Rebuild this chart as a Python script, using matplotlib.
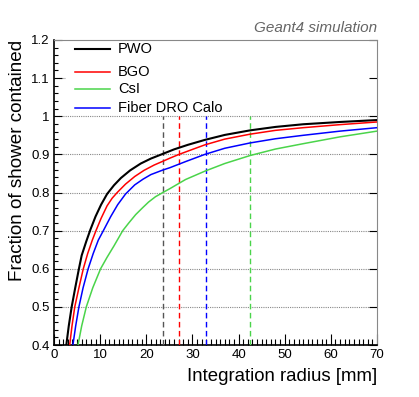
import matplotlib
matplotlib.use("Agg")
import matplotlib.pyplot as plt
from matplotlib.ticker import MultipleLocator
from matplotlib.patches import Rectangle

plt.rcParams['font.family'] = ['Liberation Sans', 'DejaVu Sans']

labels = ["PWO", "BGO", "CsI", "Fiber DRO Calo"]
colors = ["#000000", "#ff0000", "#4ad44a", "#0000ff"]
vline_colors = ["#555555", "#ff0000", "#4ad44a", "#0000ff"]

pwo_x = [2.0, 2.67, 3.2, 3.83, 4.6, 5.4, 6.0, 7.0, 7.9, 9.0, 10.2, 11.5, 13.0, 14.5, 16.5, 18.8,
         21.0, 23.3, 26.0, 29.0, 32.7, 37.0, 42.5, 48.0, 54.0, 62.0, 70.0]
pwo_y = [0.33, 0.40, 0.45, 0.50, 0.55, 0.60, 0.635, 0.672, 0.703, 0.737, 0.768, 0.796, 0.819, 0.838, 0.858, 0.876,
         0.889, 0.900, 0.913, 0.925, 0.938, 0.951, 0.963, 0.972, 0.979, 0.985, 0.990]

bgo_x = [2.6, 3.4, 3.9, 4.5, 5.4, 6.35, 7.3, 8.3, 9.1, 10.2, 11.5, 12.6, 13.7, 15.5, 17.5, 19.5,
         21.7, 23.6, 25.1, 27.1, 30.0, 32.7, 37.0, 42.5, 48.0, 54.0, 62.0, 70.0]
bgo_y = [0.33, 0.40, 0.45, 0.50, 0.55, 0.60, 0.64, 0.675, 0.70, 0.732, 0.765, 0.785, 0.80, 0.822, 0.842, 0.858,
         0.872, 0.882, 0.890, 0.900, 0.913, 0.925, 0.940, 0.953, 0.963, 0.970, 0.978, 0.985]

csi_x = [4.3, 5.2, 6.0, 7.0, 8.4, 10.1, 11.5, 13.0, 14.9, 16.2, 17.7, 19.2, 20.5, 22.0, 23.6, 25.1,
         28.5, 32.7, 37.0, 42.5, 48.0, 54.0, 62.0, 70.0]
csi_y = [0.32, 0.40, 0.45, 0.50, 0.55, 0.60, 0.63, 0.66, 0.70, 0.72, 0.742, 0.76, 0.775, 0.789, 0.80, 0.81,
         0.834, 0.856, 0.876, 0.897, 0.914, 0.928, 0.946, 0.961]

dro_x = [3.2, 4.1, 4.7, 5.4, 6.3, 7.4, 8.5, 9.6, 10.7, 12.3, 13.8, 15.5, 17.5, 19.3, 21.0, 23.6,
         25.1, 28.5, 32.7, 37.0, 42.5, 48.0, 54.0, 62.0, 70.0]
dro_y = [0.32, 0.40, 0.45, 0.50, 0.55, 0.60, 0.64, 0.675, 0.70, 0.737, 0.768, 0.796, 0.820, 0.835, 0.847, 0.859,
         0.865, 0.881, 0.900, 0.916, 0.930, 0.941, 0.950, 0.961, 0.970]

# radius containing 90% of shower for each calorimeter (PWO, BGO, CsI, DRO)
r90 = [23.6, 27.1, 42.5, 32.9]

series_x = [pwo_x, bgo_x, csi_x, dro_x]
series_y = [pwo_y, bgo_y, csi_y, dro_y]
widths = [1.5, 1.1, 1.1, 1.1]

fig = plt.figure(figsize=(4.19, 3.97), dpi=100)
ax = fig.add_axes([54/419, 52/397, 323/419, 305/397])

ax.set_xlim(0, 70)
ax.set_ylim(0.4, 1.2)

# horizontal dotted grid
for yv in [0.5, 0.6, 0.7, 0.8, 0.9, 1.0, 1.1]:
    ax.axhline(yv, color="#888888", lw=0.8, ls=(0, (1, 1)), zorder=0)

# white legend area covering grid
ax.add_patch(Rectangle((0.037, 0.762), 0.963, 0.238, transform=ax.transAxes,
                       facecolor="white", edgecolor="none", zorder=1))

for xs, ys, c, lw in zip(series_x, series_y, colors, widths):
    ax.plot(xs, ys, color=c, lw=lw, zorder=4, solid_joinstyle="round")

for xv, c in zip(r90, vline_colors):
    ax.plot([xv, xv], [0.4, 1.0], color=c, lw=1.0, ls=(0, (4, 2.5)), zorder=3)

# legend (manual, ROOT style)
leg_y = [0.970, 0.895, 0.840, 0.777]
for lab, c, yy, lw in zip(labels, colors, leg_y, widths):
    ax.plot([0.065, 0.173], [yy, yy], color=c, lw=lw, transform=ax.transAxes, zorder=5)
    ax.text(0.198, yy, lab, transform=ax.transAxes, fontsize=10.5, va="center", ha="left", zorder=5)

# ticks
ax.xaxis.set_major_locator(MultipleLocator(10))
ax.xaxis.set_minor_locator(MultipleLocator(1))
ax.yaxis.set_major_locator(MultipleLocator(0.1))
ax.yaxis.set_minor_locator(MultipleLocator(0.02))
ax.tick_params(axis="both", which="both", direction="in", labelsize=9.5, pad=3, top=False)
ax.tick_params(axis="x", which="major", length=8, width=0.8)
ax.tick_params(axis="x", which="minor", length=4, width=0.8)
ax.tick_params(axis="y", which="major", length=6, width=0.8, right=True)
ax.tick_params(axis="y", which="minor", length=3, width=0.8)
ax.set_xticks([0, 10, 20, 30, 40, 50, 60, 70])
ax.set_xticklabels(["0", "10", "20", "30", "40", "50", "60", "70"])
ax.set_yticks([0.4, 0.5, 0.6, 0.7, 0.8, 0.9, 1.0, 1.1, 1.2])
ax.set_yticklabels(["0.4", "0.5", "0.6", "0.7", "0.8", "0.9", "1", "1.1", "1.2"])

for side in ["left", "bottom"]:
    ax.spines[side].set_color("black")
    ax.spines[side].set_linewidth(1.2)
for side in ["right", "top"]:
    ax.spines[side].set_color("#888888")
    ax.spines[side].set_linewidth(0.8)

ax.set_xlabel("Integration radius [mm]", fontsize=13.4, loc="right", labelpad=5)
ax.set_ylabel("Fraction of shower contained", fontsize=13.6, loc="top", labelpad=4)

fig.text(377/419, 1 - 28/397, "Geant4 simulation", ha="right", va="center",
         fontsize=11, style="italic", color="#666666")

fig.savefig("out.png", dpi=100)
